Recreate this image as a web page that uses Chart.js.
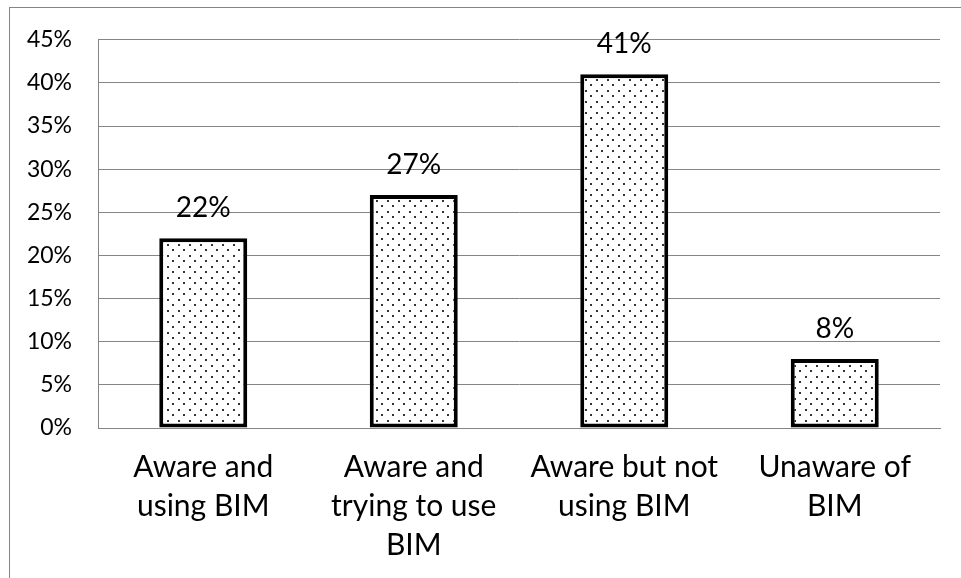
<!DOCTYPE html>
<html>
<head>
<meta charset="utf-8">
<script src="https://cdn.jsdelivr.net/npm/chart.js@4/dist/chart.umd.min.js"></script>
<style>
  html, body { margin: 0; padding: 0; background: #fff; }
  #wrap { width: 961px; height: 578px; position: relative; }
</style>
</head>
<body>
<div id="wrap"><canvas id="c"></canvas></div>
<script>
// Awareness of BIM among respondents (share of responses)
const categories = [
  ['Aware and', 'using BIM'],
  ['Aware and', 'trying to use', 'BIM'],
  ['Aware but not', 'using BIM'],
  ['Unaware of', 'BIM']
];
const shares = [22, 27, 41, 8];
const yTicks = [0, 5, 10, 15, 20, 25, 30, 35, 40, 45];

// Staggered dot fill for the bars
function dotPattern() {
  const p = document.createElement('canvas');
  p.width = 11; p.height = 11;
  const g = p.getContext('2d');
  g.fillStyle = '#fff';
  g.fillRect(0, 0, 11, 11);
  g.fillStyle = '#333';
  g.fillRect(2, 2, 2, 2);
  g.fillRect(7, 7, 2, 2);
  return document.getElementById('c').getContext('2d').createPattern(p, 'repeat');
}

const GRID = '#858585';

// Thin frame around the chart area (top and left edges only show)
const frame = {
  id: 'frame',
  beforeDraw(chart) {
    const ctx = chart.ctx;
    ctx.save();
    ctx.strokeStyle = GRID;
    ctx.lineWidth = 1;
    ctx.strokeRect(9.5, 7.5, 2000, 2000);
    ctx.restore();
  }
};

// Percentage labels above each bar
const valueLabels = {
  id: 'valueLabels',
  afterDatasetsDraw(chart) {
    const ctx = chart.ctx;
    const meta = chart.getDatasetMeta(0);
    ctx.save();
    ctx.font = '28px Lato';
    ctx.fillStyle = '#000';
    ctx.textAlign = 'center';
    ctx.textBaseline = 'alphabetic';
    meta.data.forEach((bar, i) => {
      ctx.fillText(shares[i] + '%', bar.x, bar.y - 21);
    });
    ctx.restore();
  }
};

new Chart(document.getElementById('c'), {
  type: 'bar',
  data: {
    labels: categories,
    datasets: [{
      data: shares,
      backgroundColor: dotPattern(),
      borderColor: '#000',
      borderWidth: 4,
      borderSkipped: false,
      categoryPercentage: 1,
      barPercentage: 0.418
    }]
  },
  options: {
    responsive: true,
    maintainAspectRatio: false,
    animation: false,
    layout: { padding: { top: 37, right: 21, left: 0, bottom: 0 } },
    plugins: { legend: { display: false }, tooltip: { enabled: false } },
    scales: {
      x: {
        grid: { display: false, drawTicks: false },
        border: { display: true, color: GRID, width: 1 },
        ticks: {
          color: '#000',
          font: { family: 'Lato', size: 30, lineHeight: 1.3 },
          padding: 20,
          maxRotation: 0,
          autoSkip: false
        },
        afterFit(s) { s.height = 150; }
      },
      y: {
        min: 0,
        max: 45,
        afterBuildTicks(s) { s.ticks = yTicks.map(v => ({ value: v })); },
        grid: { color: GRID, lineWidth: 1, drawTicks: false },
        border: { display: true, color: GRID, width: 1 },
        ticks: {
          color: '#000',
          font: { family: 'Lato', size: 23 },
          padding: 26,
          callback: v => v + '%'
        },
        afterFit(s) { s.width = 98; }
      }
    }
  },
  plugins: [frame, valueLabels]
});
</script>
</body>
</html>
